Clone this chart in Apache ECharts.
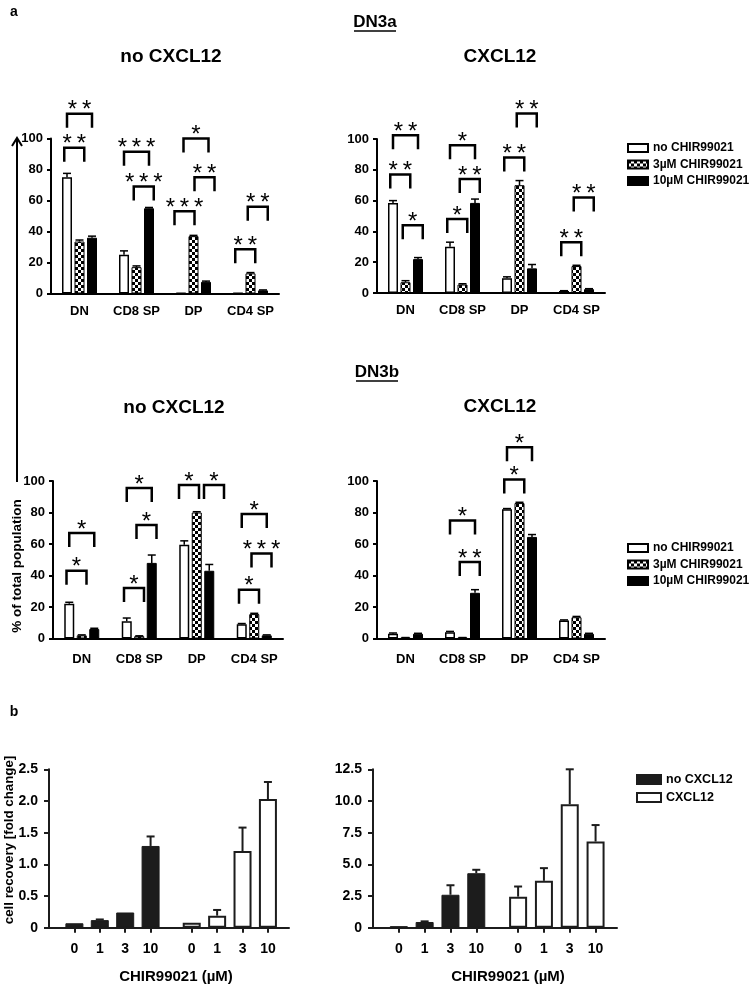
<!DOCTYPE html>
<html><head><meta charset="utf-8">
<script src="https://cdn.jsdelivr.net/npm/echarts@6/dist/echarts.min.js"></script>
<style>html,body{margin:0;padding:0;background:#fff}#c{width:753px;height:990px}</style>
</head><body><div id="c"></div>
<script>
const FONT = '"Liberation Sans", Arial, Helvetica, sans-serif';

// ---------- panel a data ----------
const categories = ['DN', 'CD8 SP', 'DP', 'CD4 SP'];
const treatments = ['no CHIR99021', '3µM CHIR99021', '10µM CHIR99021'];

// DN3a, no CXCL12
const dn3aNo_none = [75, 25, 0.3, 0.2];
const dn3aNo_noneErr = [2.5, 2.5, 0, 0];
const dn3aNo_3uM = [33.5, 17, 37, 13];
const dn3aNo_3uMErr = [1, 0.8, 0.5, 0.5];
const dn3aNo_10uM = [36, 55, 7.5, 2];
const dn3aNo_10uMErr = [1, 0.5, 0.5, 0.3];
// significance brackets: [category, fromBar, toBar, level, stars, shift (in bar pitches)]
const dn3aNoSig = [[0,0,1,94,2,0],[0,0,2,116,2,0],[1,0,2,91.5,3,0],[1,1,2,69,3,0],[2,0,1,53,3,-0.3],[2,0,2,100,1,0.2],[2,1,2,75,2,0.3],[3,0,1,28.5,2,0],[3,1,2,56,2,0]];

// DN3a, CXCL12
const dn3aYes_none = [58.5, 30, 9.5, 1.3];
const dn3aYes_noneErr = [1.5, 3, 1, 0.2];
const dn3aYes_3uM = [7, 5.5, 70, 17.5];
const dn3aYes_3uMErr = [1, 0.5, 3, 0.5];
const dn3aYes_10uM = [22, 58.5, 16, 2.5];
const dn3aYes_10uMErr = [1, 2.5, 2.5, 0.3];
const dn3aYesSig = [[0,0,1,77,2,0],[0,0,2,102.5,2,0],[0,1,2,44,1,0],[1,0,1,48,1,0],[1,0,2,96,1,0],[1,1,2,74,2,0],[2,0,1,88,2,0],[2,1,2,116.5,2,0],[3,0,1,33,2,0],[3,1,2,62,2,0]];

// DN3b, no CXCL12
const dn3bNo_none = [22, 11, 59.5, 9];
const dn3bNo_noneErr = [1, 2, 2.5, 0.5];
const dn3bNo_3uM = [2, 1.5, 80, 15.5];
const dn3bNo_3uMErr = [0.3, 0.2, 0.5, 0.5];
const dn3bNo_10uM = [6, 48, 43, 2];
const dn3bNo_10uMErr = [0.5, 5, 4, 0.3];
const dn3bNoSig = [[0,0,1,43,1,0],[0,0,2,67,1,0],[1,0,1,32,1,0],[1,1,2,72,1,0],[1,0,2,95.5,1,0],[2,0,1,97.5,1,-0.2],[2,1,2,97.5,1,0.8],[3,0,1,31,1,0],[3,1,2,54,3,0],[3,0,2,79,1,0]];

// DN3b, CXCL12
const dn3bYes_none = [3, 4, 82, 11.5];
const dn3bYes_noneErr = [0.5, 0.5, 0.5, 0.3];
const dn3bYes_3uM = [0.5, 0.5, 86, 13.5];
const dn3bYes_3uMErr = [0.1, 0.1, 0.5, 0.5];
const dn3bYes_10uM = [3, 29, 64.5, 3];
const dn3bYes_10uMErr = [0.3, 2, 1.5, 0.3];
const dn3bYesSig = [[1,1,2,48.5,2,0],[1,0,2,75,1,0],[2,0,1,101,1,0],[2,0,2,121.5,1,0]];

// ---------- panel b data ----------
const doses = ['0', '1', '3', '10'];
const conditions = ['no CXCL12', 'CXCL12'];
const bLeft_noCXCL12 = [0.07, 0.12, 0.24, 1.29];
const bLeft_noCXCL12Err = [0, 0.01, 0, 0.15];
const bLeft_CXCL12 = [0.08, 0.19, 1.21, 2.03];
const bLeft_CXCL12Err = [0, 0.09, 0.37, 0.27];
const bRight_noCXCL12 = [0.12, 0.45, 2.6, 4.3];
const bRight_noCXCL12Err = [0, 0.05, 0.75, 0.27];
const bRight_CXCL12 = [2.45, 3.7, 9.75, 6.8];
const bRight_CXCL12Err = [0.8, 1.0, 2.75, 1.3];

// ---------- styles ----------
const checker = document.createElement('canvas');
checker.width = 6; checker.height = 6;
(function(){const g=checker.getContext('2d');g.fillStyle='#fff';g.fillRect(0,0,6,6);g.fillStyle='#000';g.fillRect(0,0,3,3);g.fillRect(3,3,3,3);})();
const barStyles = [
  {color:'#fff', borderColor:'#000', borderWidth:1.5},
  {color:{image:checker, repeat:'repeat'}, borderColor:'#000', borderWidth:1},
  {color:'#000', borderColor:'#000', borderWidth:1}
];
const BW = 10, PITCH = 12.5;

const panelsA = [
  {grid:{left:51, top:138.5, width:228, height:155}, vals:[dn3aNo_none,dn3aNo_3uM,dn3aNo_10uM], errs:[dn3aNo_noneErr,dn3aNo_3uMErr,dn3aNo_10uMErr], sig:dn3aNoSig, lm:11},
  {grid:{left:377, top:139, width:228, height:154}, vals:[dn3aYes_none,dn3aYes_3uM,dn3aYes_10uM], errs:[dn3aYes_noneErr,dn3aYes_3uMErr,dn3aYes_10uMErr], sig:dn3aYesSig, lm:11},
  {grid:{left:53, top:481, width:230, height:157.5}, vals:[dn3bNo_none,dn3bNo_3uM,dn3bNo_10uM], errs:[dn3bNo_noneErr,dn3bNo_3uMErr,dn3bNo_10uMErr], sig:dn3bNoSig, lm:14},
  {grid:{left:377, top:481, width:228, height:157.5}, vals:[dn3bYes_none,dn3bYes_3uM,dn3bYes_10uM], errs:[dn3bYes_noneErr,dn3bYes_3uMErr,dn3bYes_10uMErr], sig:dn3bYesSig, lm:14}
];

const grids = [], xAxes = [], yAxes = [], series = [];
const blackLine = {color:'#000', width:2};

function errRenderA(params, api){
  const cat=api.value(0), v=api.value(1), e=api.value(2), s=api.value(3);
  if (!(e > 0)) return {type:'group', children:[]};
  const p0 = api.coord([cat, v]), p1 = api.coord([cat, v + e]);
  const x = p0[0] + (s - 1) * PITCH;
  return {type:'group', children:[
    {type:'line', shape:{x1:x, y1:p0[1], x2:x, y2:p1[1]}, style:{stroke:'#000', lineWidth:1.5}},
    {type:'line', shape:{x1:x-4, y1:p1[1], x2:x+4, y2:p1[1]}, style:{stroke:'#000', lineWidth:1.5}}
  ]};
}
function sigRender(params, api){
  const cat=api.value(0), f=api.value(1), t=api.value(2), lvl=api.value(3), n=api.value(4), sh=api.value(5)||0;
  const c = api.coord([cat, lvl]);
  const xf = c[0] + (f - 1) * PITCH, xt = c[0] + (t - 1) * PITCH;
  let x1, x2;
  if (t - f === 1) { const m = (xf + xt) / 2 + 1; x1 = m - 10; x2 = m + 10; }
  else { x1 = xf; x2 = xt; }
  x1 += sh * PITCH; x2 += sh * PITCH;
  const yt = c[1], yb = yt + 14;
  const stars = new Array(n).fill('*').join('\u2009');
  return {type:'group', children:[
    {type:'polyline', shape:{points:[[x1,yb],[x1,yt],[x2,yt],[x2,yb]]}, style:{stroke:'#000', lineWidth:2.5, fill:null, lineJoin:'miter'}},
    {type:'text', style:{text:stars, x:(x1+x2)/2, y:yt-3, align:'center', verticalAlign:'middle', textAlign:'center', textVerticalAlign:'middle', fontSize:24, fontFamily:FONT, fill:'#000'}}
  ]};
}

panelsA.forEach((p, gi) => {
  grids.push(p.grid);
  xAxes.push({gridIndex:gi, type:'category', data:categories,
    axisLine:{lineStyle:blackLine}, axisTick:{alignWithLabel:true, length:4, lineStyle:blackLine},
    axisLabel:{interval:0, color:'#000', fontFamily:FONT, fontWeight:'bold', fontSize:13, margin:p.lm}});
  yAxes.push({gridIndex:gi, type:'value', min:0, max:100, interval:20,
    axisLine:{show:true, lineStyle:blackLine}, axisTick:{show:true, length:4, lineStyle:blackLine},
    splitLine:{show:false},
    axisLabel:{color:'#000', fontFamily:FONT, fontWeight:'bold', fontSize:13, margin:8}});
  const errData = [];
  p.vals.forEach((arr, k) => {
    series.push({type:'bar', name:treatments[k], xAxisIndex:gi, yAxisIndex:gi, data:arr,
      barWidth:BW, barGap:'25%', itemStyle:barStyles[k], silent:true});
    arr.forEach((v, ci) => errData.push([ci, v, p.errs[k][ci], k]));
  });
  series.push({type:'custom', xAxisIndex:gi, yAxisIndex:gi, data:errData, renderItem:errRenderA, silent:true, z:3});
  series.push({type:'custom', xAxisIndex:gi, yAxisIndex:gi, data:p.sig, renderItem:sigRender, silent:true, clip:false, z:4});
});

// ---------- panel b ----------
const bGroupStart = [1.0, 5.62];
const bPos = [], bLab = [];
bGroupStart.forEach(s => doses.forEach((d, i) => { bPos.push(s + i); bLab.push(d); }));
const panelsB = [
  {grid:{left:49, top:769.3, width:240, height:158.4}, max:2.5, interval:0.5, vals:[bLeft_noCXCL12, bLeft_CXCL12], errs:[bLeft_noCXCL12Err, bLeft_CXCL12Err]},
  {grid:{left:373, top:769.3, width:244, height:158.4}, max:12.5, interval:2.5, vals:[bRight_noCXCL12, bRight_CXCL12], errs:[bRight_noCXCL12Err, bRight_CXCL12Err]}
];
const bStyles = [
  {color:'#1c1c1c', borderColor:'#1c1c1c', borderWidth:1},
  {color:'#fff', borderColor:'#1c1c1c', borderWidth:2}
];
function errRenderB(params, api){
  const x=api.value(0), v=api.value(1), e=api.value(2);
  if (!(e > 0)) return {type:'group', children:[]};
  const p0 = api.coord([x, v]), p1 = api.coord([x, v + e]);
  return {type:'group', children:[
    {type:'line', shape:{x1:p0[0], y1:p0[1], x2:p0[0], y2:p1[1]}, style:{stroke:'#1c1c1c', lineWidth:2}},
    {type:'line', shape:{x1:p0[0]-4, y1:p1[1], x2:p0[0]+4, y2:p1[1]}, style:{stroke:'#1c1c1c', lineWidth:2}}
  ]};
}
panelsB.forEach((p, j) => {
  const gi = 4 + j;
  grids.push(p.grid);
  xAxes.push({gridIndex:gi, type:'value', min:0, max:9.45,
    axisLine:{show:true, lineStyle:{color:'#1c1c1c', width:2}},
    axisTick:{show:true, customValues:bPos, length:5, lineStyle:{color:'#1c1c1c', width:2}},
    splitLine:{show:false},
    axisLabel:{customValues:bPos, formatter:v => { let b=0, d=1e9; bPos.forEach((q,i)=>{ if(Math.abs(q-v)<d){d=Math.abs(q-v); b=i;} }); return bLab[b]; },
      color:'#000', fontFamily:FONT, fontWeight:'bold', fontSize:14, margin:14}});
  yAxes.push({gridIndex:gi, type:'value', min:0, max:p.max, interval:p.interval,
    axisLine:{show:true, lineStyle:{color:'#1c1c1c', width:2}},
    axisTick:{show:true, length:5, lineStyle:{color:'#1c1c1c', width:2}},
    splitLine:{show:false},
    axisLabel:{color:'#000', fontFamily:FONT, fontWeight:'bold', fontSize:14, margin:11,
      formatter: v => v === 0 ? '0' : v.toFixed(1)}});
  const errData = [];
  p.vals.forEach((arr, k) => {
    const data = arr.map((v, i) => [bGroupStart[k] + i, v]);
    series.push({type:'bar', name:conditions[k], xAxisIndex:gi, yAxisIndex:gi, data:data,
      barWidth:18, barGap:'-100%', itemStyle:bStyles[k], silent:true});
    arr.forEach((v, i) => errData.push([bGroupStart[k] + i, v, p.errs[k][i]]));
  });
  series.push({type:'custom', xAxisIndex:gi, yAxisIndex:gi, data:errData, renderItem:errRenderB, silent:true, z:3});
});

// ---------- text & decorations ----------
function T(x, y, text, size, weight, extra){
  return Object.assign({type:'text', x:x, y:y, silent:true, style:{text:text, fontSize:size, fontWeight:weight||'bold', fontFamily:FONT, fill:'#000',
    align:'center', verticalAlign:'middle', textAlign:'center', textVerticalAlign:'middle'}}, extra||{});
}
const graphic = [
  T(14, 12, 'a', 14),
  T(375, 22, 'DN3a', 17),
  {type:'line', shape:{x1:354, y1:31, x2:396, y2:31}, style:{stroke:'#000', lineWidth:1.5}, silent:true},
  T(171, 57, 'no CXCL12', 19),
  T(500, 57, 'CXCL12', 19),
  T(377, 372, 'DN3b', 17),
  {type:'line', shape:{x1:356, y1:381, x2:398, y2:381}, style:{stroke:'#000', lineWidth:1.5}, silent:true},
  T(174, 408, 'no CXCL12', 19),
  T(500, 407, 'CXCL12', 19),
  {type:'line', shape:{x1:17, y1:139, x2:17, y2:482}, style:{stroke:'#000', lineWidth:2}, silent:true},
  {type:'polyline', shape:{points:[[12,146],[17,138],[22,146]]}, style:{stroke:'#000', lineWidth:2, fill:null}, silent:true},
  T(17, 566, '% of total population', 13.5, 'bold', {rotation:Math.PI/2}),
  T(14, 712, 'b', 14),
  T(9, 840, 'cell recovery [fold change]', 13.3, 'bold', {rotation:Math.PI/2}),
  T(176, 977, 'CHIR99021 (µM)', 15),
  T(508, 977, 'CHIR99021 (µM)', 15)
];

const legendText = {color:'#000', fontFamily:FONT, fontWeight:'bold', fontSize:12};
const option = {
  animation:false,
  backgroundColor:'#fff',
  grid:grids, xAxis:xAxes, yAxis:yAxes, series:series,
  legend:[
    {data:treatments, left:622, top:137, orient:'vertical', icon:'rect', itemWidth:20, itemHeight:8, itemGap:4.5, selectedMode:false, textStyle:legendText},
    {data:treatments, left:622, top:537, orient:'vertical', icon:'rect', itemWidth:20, itemHeight:8, itemGap:4.5, selectedMode:false, textStyle:legendText},
    {data:conditions, left:631, top:768, orient:'vertical', icon:'rect', itemWidth:24, itemHeight:9, itemGap:5, selectedMode:false, textStyle:Object.assign({}, legendText, {fontSize:12.5})}
  ],
  graphic:graphic
};
const chart = echarts.init(document.getElementById('c'), null, {renderer:'canvas', width:753, height:990});
chart.setOption(option);
</script></body></html>
